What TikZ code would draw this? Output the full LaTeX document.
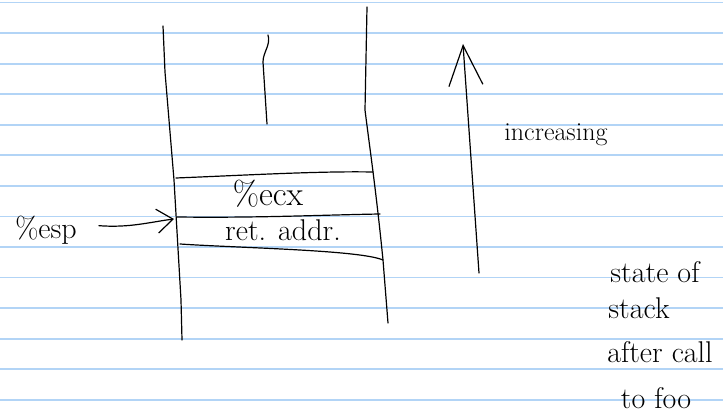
\documentclass[tikz,border=0pt]{standalone}
\usetikzlibrary{arrows.meta}
\definecolor{RuleColor}{RGB}{178,212,246}
\tikzstyle{pen}=[draw=black,
                 line width=1.2pt,
                 line cap=round,
                 line join=round,
                ]
\tikzstyle{hand}=[inner sep=0pt,
                  anchor=base,
                  font=\fontsize{30}{34}\selectfont,
                 ]
\begin{document}
\begin{tikzpicture}[x=1pt,y=-1pt]
\useasboundingbox (0,0) rectangle (723,420);
% ruled paper
\foreach \i in {0,...,13}
  \draw[RuleColor, line width=1.8pt] (0,2.6+30.55*\i) -- (723,2.6+30.55*\i);

% stack walls
\draw[pen] (163,26) -- (165,72) -- (174,180) -- (181,300) -- (182,340);
\draw[pen] (367,7) -- (365,110) .. controls (370,150) and (376,190) .. (383,260) -- (388,323);
\draw[pen] (268,35) .. controls (271,45) and (263,52) .. (263,62) -- (267,124);

% stack slots
\draw[pen] (176,178) .. controls (250,175) and (320,171) .. (373,172);
\draw[pen] (177,217) .. controls (260,218) and (320,215) .. (380,214);
\draw[pen] (180,244) .. controls (240,248) and (360,250) .. (383,260);

\node at (268,205) (slot_ecx)    [hand, font=\fontsize{34}{38}\selectfont] {\%ecx};
\node at (283,240) (slot_ret)    [hand] {ret. addr.};

% stack pointer
\node at (46,238)  (esp)         [hand] {\%esp};
\coordinate (esp_tip) at (174,219);
\draw[pen, -{Straight Barb[length=16pt,width=24pt,line width=1.2pt]}] (esp.east) ++(22,-4) coordinate (esp_tail)
  (esp_tail) .. controls (130,228) and (150,222) .. (esp_tip);

% direction of growth
\coordinate (grow_base) at (479,273);
\coordinate (grow_tip)  at (463,44);
\draw[pen, -{Straight Barb[length=40pt,width=34pt,line width=1.2pt]}] (grow_base) -- (grow_tip);
\node at (556,140) (increasing)  [hand, font=\fontsize{26}{30}\selectfont] {increasing};

% caption
\node at (655,282) (caption_a)   [hand] {state of};
\node at (639,318) (caption_b)   [hand] {stack};
\node at (660,362) (caption_c)   [hand] {after call};
\node at (656,408) (caption_d)   [hand] {to foo};
\end{tikzpicture}
\end{document}
